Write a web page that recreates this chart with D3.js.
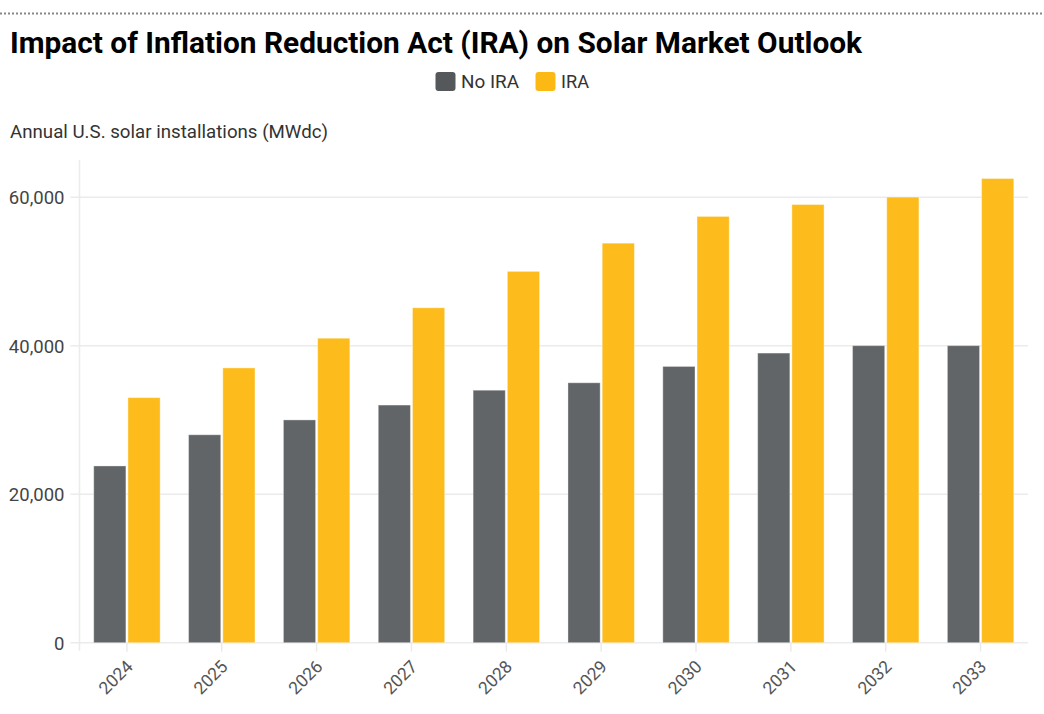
<!DOCTYPE html>
<html>
<head>
<meta charset="utf-8">
<script src="https://cdn.jsdelivr.net/npm/d3@7"></script>
<style>
  body { margin:0; background:#fff; }
  text { font-family: Roboto, "Noto Sans", sans-serif; }
</style>
</head>
<body>
<div id="chart"></div>
<script>
const years = ['2024','2025','2026','2027','2028','2029','2030','2031','2032','2033']
const seriesNames = ['No IRA','IRA']
const noIRA = [23800,28000,30000,32000,34000,35000,37200,39000,40000,40000]
const withIRA = [33000,37000,41000,45100,50000,53800,57400,59000,60000,62500]
const yTicks = [0,20000,40000,60000]

const width = 1044
const height = 714
const margin = {left:79.5, right:16, top:160, bottom:71.3}
const COLORS = ['#626567','#fdbc1c']
const LEGEND_COLORS = ['#55585b','#fdb913']

const svg = d3.select('#chart').append('svg')
  .attr('width',width)
  .attr('height',height)

// dotted rule on top
svg.append('line')
  .attr('x1',0).attr('x2',width)
  .attr('y1',13.5).attr('y2',13.5)
  .attr('stroke','#888')
  .attr('stroke-width',2)
  .attr('stroke-dasharray','2,2')

// title is condensed in the original, squeeze Roboto bold to the same width
svg.append('text')
  .attr('x',10).attr('y',53)
  .attr('font-size',29)
  .attr('font-weight',700)
  .attr('fill','#000')
  .attr('textLength',852)
  .attr('lengthAdjust','spacingAndGlyphs')
  .text('Impact of Inflation Reduction Act (IRA) on Solar Market Outlook')

// legend
const legend = svg.append('g')
const legendX = [435.5,535.5]
const legendW = [58,28]
seriesNames.forEach((name,i) => {
  legend.append('rect')
    .attr('x',legendX[i]).attr('y',72)
    .attr('width',20).attr('height',19)
    .attr('rx',3)
    .attr('fill',LEGEND_COLORS[i])
  legend.append('text')
    .attr('x',legendX[i]+25.5).attr('y',87.5)
    .attr('font-size',17.5)
    .attr('fill','#333')
    .attr('textLength',legendW[i])
    .attr('lengthAdjust','spacingAndGlyphs')
    .text(name)
})

svg.append('text')
  .attr('x',10).attr('y',137.5)
  .attr('font-size',18)
  .attr('fill','#333')
  .attr('textLength',318)
  .attr('lengthAdjust','spacingAndGlyphs')
  .text('Annual U.S. solar installations (MWdc)')

const x0 = d3.scaleBand().domain(years)
  .range([margin.left,width-margin.right])
  .paddingInner(0.3).paddingOuter(0.15)
const x1 = d3.scaleBand().domain(seriesNames)
  .range([0,x0.bandwidth()])
  .paddingInner(0.06)
const y = d3.scaleLinear().domain([0,65000])
  .range([height-margin.bottom,margin.top])

// gridlines
svg.append('g').selectAll('line.grid')
  .data(yTicks)
  .join('line')
  .attr('class','grid')
  .attr('x1',margin.left-9).attr('x2',width-margin.right)
  .attr('y1',d => y(d)).attr('y2',d => y(d))
  .attr('stroke','#ebebeb')
  .attr('stroke-width',1.5)

svg.append('line')
  .attr('x1',margin.left).attr('x2',margin.left)
  .attr('y1',margin.top).attr('y2',y(0)+8)
  .attr('stroke','#ebebeb')
  .attr('stroke-width',1.5)

svg.append('g').selectAll('text.ytick')
  .data(yTicks)
  .join('text')
  .attr('class','ytick')
  .attr('x',64.5)
  .attr('y',d => y(d))
  .attr('dy','0.38em')
  .attr('text-anchor','end')
  .attr('font-size',18.5)
  .attr('fill','#444')
  .text(d => d3.format(',')(d))

// bars
const groups = svg.append('g').selectAll('g.year')
  .data(years)
  .join('g')
  .attr('class','year')
  .attr('transform',d => `translate(${x0(d)},0)`)

groups.selectAll('rect')
  .data((d,i) => [{s:'No IRA',v:noIRA[i]},{s:'IRA',v:withIRA[i]}])
  .join('rect')
  .attr('x',d => x1(d.s))
  .attr('y',d => y(d.v))
  .attr('width',x1.bandwidth())
  .attr('height',d => y(0)-y(d.v))
  .attr('fill',(d,i) => COLORS[i])
  .attr('stroke','rgba(255,255,255,0.35)')
  .attr('stroke-width',1)

// x ticks + labels
const xAxis = svg.append('g')
xAxis.selectAll('line')
  .data(years)
  .join('line')
  .attr('x1',d => x0(d)+x0.bandwidth()/2)
  .attr('x2',d => x0(d)+x0.bandwidth()/2)
  .attr('y1',y(0)).attr('y2',y(0)+9)
  .attr('stroke','#ebebeb')
  .attr('stroke-width',1.5)

xAxis.selectAll('text')
  .data(years)
  .join('text')
  .attr('text-anchor','end')
  .attr('font-size',17.5)
  .attr('fill','#555')
  .attr('transform',d => `translate(${x0(d)+x0.bandwidth()/2+7},${y(0)+25}) rotate(-45)`)
  .text(d => d)
</script>
</body>
</html>
